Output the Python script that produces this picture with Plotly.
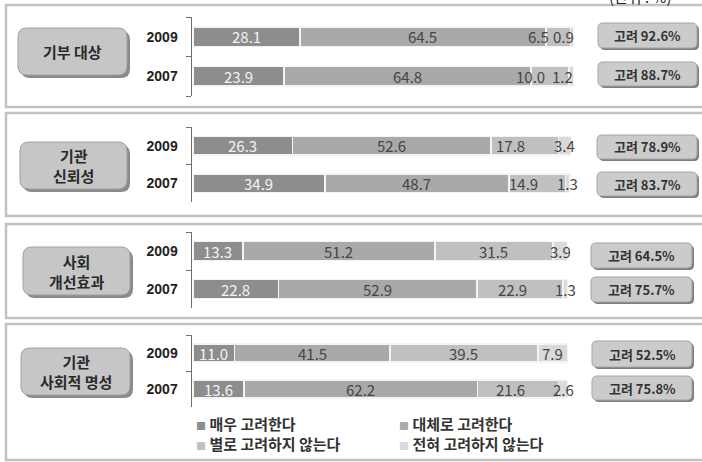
import plotly.graph_objects as go

# ---------------- data ----------------
categories = ["기부 대상", "기관<br>신뢰성", "사회<br>개선효과", "기관<br>사회적 명성"]
years = ["2009", "2007"]
year_order = ["2007", "2009"]  # bottom to top
series_names = ["매우 고려한다", "대체로 고려한다", "별로 고려하지 않는다", "전혀 고려하지 않는다"]
# each list: per category -> [2009, 2007]
very_much = [[28.1, 23.9], [26.3, 34.9], [13.3, 22.8], [11.0, 13.6]]
mostly = [[64.5, 64.8], [52.6, 48.7], [51.2, 52.9], [41.5, 62.2]]
rarely = [[6.5, 10.0], [17.8, 14.9], [31.5, 22.9], [39.5, 21.6]]
never = [[0.9, 1.2], [3.4, 1.3], [3.9, 1.3], [7.9, 2.6]]
consider_total = [[92.6, 88.7], [78.9, 83.7], [64.5, 75.7], [52.5, 75.8]]
unit_label = "(단위 : %)"

series = [very_much, mostly, rarely, never]

# ---------------- style / layout ----------------
W, H = 702, 462
colors = ["#8d8d8d", "#a9a9a9", "#c0c0c0", "#dadada"]
label_colors = ["#f4f4f4", "#454545", "#454545", "#454545"]
KR = "Noto Sans CJK KR"


def px(x):
    return x / W


def py(y):
    return 1 - y / H


panels = [
    dict(top=5, bottom=107, ytop=17, ybot=96, xend=574, lbox=(18, 28, 127, 75),
         rbox=(598, 697), rys=[(23, 48), (62, 86)]),
    dict(top=113, bottom=216, ytop=127, ybot=202, xend=571, lbox=(20, 142, 127, 189),
         rbox=(597, 697), rys=[(135, 159), (172, 196)]),
    dict(top=224, bottom=318, ytop=232, ybot=308, xend=568, lbox=(23, 247, 130, 295),
         rbox=(591, 692), rys=[(243, 268), (277, 302)]),
    dict(top=324, bottom=460, ytop=335, ybot=407, xend=568, lbox=(21, 348, 130, 395),
         rbox=(592, 692), rys=[(341, 367), (376, 400)]),
]


def rrect(x0, y0, x1, y1, r):
    def P(x, y):
        return f"{px(x):.5f},{py(y):.5f}"
    return " ".join([
        f"M {P(x0 + r, y0)}", f"L {P(x1 - r, y0)}", f"Q {P(x1, y0)} {P(x1, y0 + r)}",
        f"L {P(x1, y1 - r)}", f"Q {P(x1, y1)} {P(x1 - r, y1)}", f"L {P(x0 + r, y1)}",
        f"Q {P(x0, y1)} {P(x0, y1 - r)}", f"L {P(x0, y0 + r)}", f"Q {P(x0, y0)} {P(x0 + r, y0)} Z",
    ])


def label_shift(s, v):
    # nudge crowded labels of the narrow right-hand segments to the left
    if s == 2:
        if v < 12:
            return -20
        if v < 20:
            return -14
        if v < 30:
            return -7
    if s == 3 and v < 1.25:
        return -9
    return 0


fig = go.Figure()
annotations = []
shapes = []
layout_axes = {}

for p, P in enumerate(panels):
    n = "" if p == 0 else str(p + 1)
    xref, yref = "x" + n, "y" + n

    # panel frame
    shapes.append(dict(type="rect", xref="paper", yref="paper",
                       x0=px(6), x1=1.02, y0=py(P["bottom"]), y1=py(P["top"]),
                       line=dict(color="#c2c2c2", width=2.5), fillcolor="rgba(0,0,0,0)",
                       layer="below"))

    cum = [0.0, 0.0]
    for s, arr in enumerate(series):
        vals = arr[p]
        fig.add_trace(go.Bar(
            y=years, x=vals, orientation="h", xaxis=xref, yaxis=yref,
            name=series_names[s], showlegend=False, hoverinfo="skip",
            marker=dict(color=colors[s], line=dict(color="#f4f4f4", width=1.5)),
        ))
        for k in range(2):
            v = vals[k]
            annotations.append(dict(
                x=cum[k] + v / 2, y=year_order.index(years[k]), xref=xref, yref=yref,
                text=f"{v:.1f}", showarrow=False, xanchor="center", yanchor="middle",
                xshift=label_shift(s, v),
                font=dict(family=KR, size=15, color=label_colors[s]),
            ))
            cum[k] += v

    layout_axes["xaxis" + n] = dict(
        domain=[px(193), px(P["xend"])], range=[0, 100], visible=True,
        showticklabels=False, showline=False, showgrid=False, zeroline=False, ticks="",
        anchor=yref, fixedrange=True,
    )
    layout_axes["yaxis" + n] = dict(
        domain=[py(P["ybot"]), py(P["ytop"])], type="category",
        categoryorder="array", categoryarray=year_order, range=[-0.5, 1.5],
        anchor="free", position=px(190.5), showline=True, linecolor="#707070",
        linewidth=1, ticks="outside", tickson="boundaries", ticklen=5,
        tickcolor="#707070", tickwidth=1, showgrid=False, zeroline=False,
        tickfont=dict(family="Liberation Sans", size=14, color="#222222", weight="bold"),
        ticklabelstandoff=10, fixedrange=True,
    )

    # left category box
    x0, y0, x1, y1 = P["lbox"]
    shapes.append(dict(type="path", xref="paper", yref="paper",
                       path=rrect(x0 + 3, y0 + 3, x1 + 3, y1 + 3, 9),
                       fillcolor="#8a8a8a", line=dict(width=0), layer="above"))
    shapes.append(dict(type="path", xref="paper", yref="paper",
                       path=rrect(x0, y0, x1, y1, 9),
                       fillcolor="#c6c6c6", line=dict(color="#a0a0a0", width=1), layer="above"))
    annotations.append(dict(
        x=px((x0 + x1) / 2), y=py((y0 + y1) / 2), xref="paper", yref="paper",
        text=f"<b>{categories[p]}</b>", showarrow=False, xanchor="center", yanchor="middle",
        font=dict(family=KR, size=15, color="#2a2a2a"),
    ))

    # right total boxes
    rx0, rx1 = P["rbox"]
    for k in range(2):
        ry0, ry1 = P["rys"][k]
        shapes.append(dict(type="path", xref="paper", yref="paper",
                           path=rrect(rx0 + 2, ry0 + 2, rx1 + 2, ry1 + 2, 5),
                           fillcolor="#7e7e7e", line=dict(width=0), layer="above"))
        shapes.append(dict(type="path", xref="paper", yref="paper",
                           path=rrect(rx0, ry0, rx1, ry1, 5),
                           fillcolor="#cbcbcb", line=dict(color="#a5a5a5", width=1), layer="above"))
        annotations.append(dict(
            x=px((rx0 + rx1) / 2), y=py((ry0 + ry1) / 2), xref="paper", yref="paper",
            text=f"<b>고려 {consider_total[p][k]:.1f}%</b>", showarrow=False,
            xanchor="center", yanchor="middle",
            font=dict(family=KR, size=13, color="#333333"),
        ))

# legend (as text entries with coloured squares)
leg_pos = [(194, 423), (397, 423), (194, 443), (397, 443)]
for s, name in enumerate(series_names):
    lx, ly = leg_pos[s]
    annotations.append(dict(
        x=px(lx), y=py(ly), xref="paper", yref="paper", xanchor="left", yanchor="middle",
        showarrow=False,
        text=f"<span style='color:{colors[s]};font-size:10px'>■</span> <b>{name}</b>",
        font=dict(family=KR, size=15, color="#333333"),
    ))

# unit label at the top right (cut off by the top edge, as in the source image)
annotations.append(dict(
    x=px(640), y=py(-4), xref="paper", yref="paper", xanchor="center", yanchor="middle",
    showarrow=False, text=unit_label, font=dict(family=KR, size=15, color="#222222"),
))

fig.update_layout(
    width=W, height=H, margin=dict(l=0, r=0, t=0, b=0),
    paper_bgcolor="white", plot_bgcolor="rgba(0,0,0,0)",
    barmode="stack", bargap=0.5, showlegend=False,
    annotations=annotations, shapes=shapes,
    **layout_axes,
)

fig.write_html("out.html", config={"displayModeBar": False},
               post_script="document.body.style.margin='0';")
